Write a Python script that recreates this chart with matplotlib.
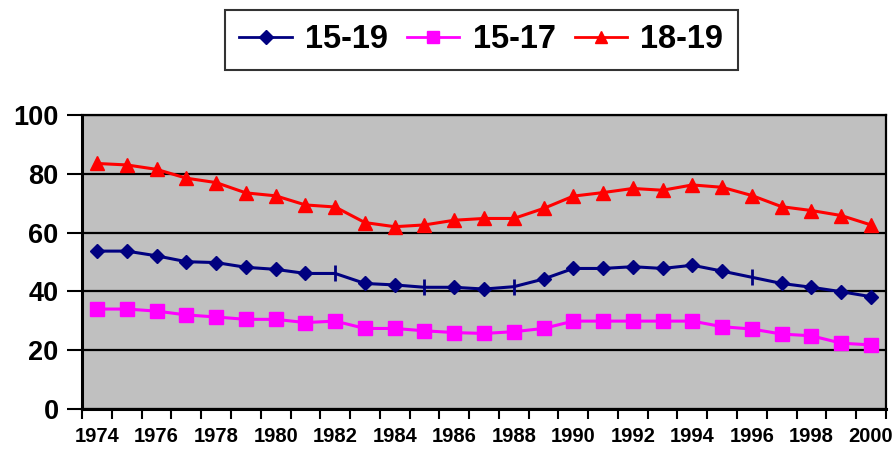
import numpy as np
import matplotlib
matplotlib.use("Agg")
import matplotlib.pyplot as plt
from matplotlib.lines import Line2D

plt.rcParams['font.family'] = ['Liberation Sans', 'DejaVu Sans']
plt.rcParams['font.weight'] = 'bold'

years = list(range(1974, 2001))
age_15_19 = [53.7, 53.7, 52.1, 50.1, 49.8, 48.2, 47.5, 46.1, 46.1, 42.7, 42.2, 41.4, 41.4,
             40.8, 41.6, 44.2, 47.8, 47.8, 48.4, 47.8, 48.9, 46.9, 44.8, 42.7, 41.4, 39.9, 38.2]
age_15_17 = [34.0, 34.0, 33.3, 32.0, 31.3, 30.5, 30.5, 29.4, 29.9, 27.4, 27.4, 26.6, 26.0,
             25.7, 26.3, 27.4, 29.9, 29.9, 29.9, 29.9, 29.9, 28.0, 27.2, 25.5, 24.9, 22.4, 21.8]
age_18_19 = [83.5, 83.0, 81.5, 78.5, 77.0, 73.5, 72.5, 69.4, 68.7, 63.4, 62.0, 62.6, 64.2,
             64.8, 64.8, 68.2, 72.4, 73.6, 75.0, 74.4, 76.2, 75.4, 72.6, 68.8, 67.5, 65.8, 62.6]
# years where the 15-19 series shows only a small tick instead of a diamond
tick_years = [1982, 1985, 1988, 1996]

x = np.arange(len(years))

fig = plt.figure(figsize=(8.93, 4.49), dpi=100)
ax = fig.add_axes([0.092, 0.089, 0.9, 0.655])
ax.set_facecolor('#C0C0C0')

navy = '#000080'
ax.plot(x, age_18_19, color='red', lw=2.2, marker='^', ms=10, zorder=3)
ax.plot(x, age_15_17, color='#FF00FF', lw=2.2, marker='s', ms=10, zorder=3)

diamond_idx = [i for i, y in enumerate(years) if y not in tick_years]
tick_idx = [i for i, y in enumerate(years) if y in tick_years]
ax.plot(x, age_15_19, color=navy, lw=2.2, zorder=3)
ax.plot(x[diamond_idx], np.array(age_15_19)[diamond_idx], ls='none', marker='D',
        ms=7, color=navy, zorder=4)
ax.plot(x[tick_idx], np.array(age_15_19)[tick_idx], ls='none', marker='|',
        ms=11, mew=2, color=navy, zorder=4)

ax.set_ylim(0, 100)
ax.set_xlim(-0.5, len(years) - 0.5)
ax.set_yticks([0, 20, 40, 60, 80, 100])
ax.yaxis.grid(True, color='black', lw=1.6)
ax.set_axisbelow(True)

ax.set_xticks(x[::2])
ax.set_xticklabels([str(y) for y in years[::2]], fontsize=14.5, fontweight='bold')
ax.set_xticks(np.arange(-0.5, len(years)), minor=True)
ax.tick_params(axis='x', which='major', length=0, pad=13)
ax.tick_params(axis='x', which='minor', length=7, width=1.5, direction='out')
ax.tick_params(axis='y', length=11, width=1.5, direction='out', labelsize=19.5, pad=6)
for lbl in ax.get_yticklabels():
    lbl.set_fontweight('bold')

for s in ax.spines.values():
    s.set_color('black')
    s.set_linewidth(1.6)
ax.spines['left'].set_linewidth(2.2)
ax.spines['bottom'].set_linewidth(2.2)

handles = [Line2D([], [], color=navy, lw=2, marker='D', ms=7),
           Line2D([], [], color='#FF00FF', lw=2, marker='s', ms=9),
           Line2D([], [], color='red', lw=2, marker='^', ms=9)]
leg = fig.legend(handles, ['15-19', '15-17', '18-19'], loc='center',
                 bbox_to_anchor=(0.539, 0.911), ncol=3, fancybox=False,
                 frameon=True, edgecolor='black', handlelength=1.6,
                 columnspacing=0.6, handletextpad=0.4, borderpad=0.45,
                 borderaxespad=0, prop={'size': 23.5, 'weight': 'bold'})
leg.get_frame().set_linewidth(1.5)

fig.savefig('out.png', dpi=100)
